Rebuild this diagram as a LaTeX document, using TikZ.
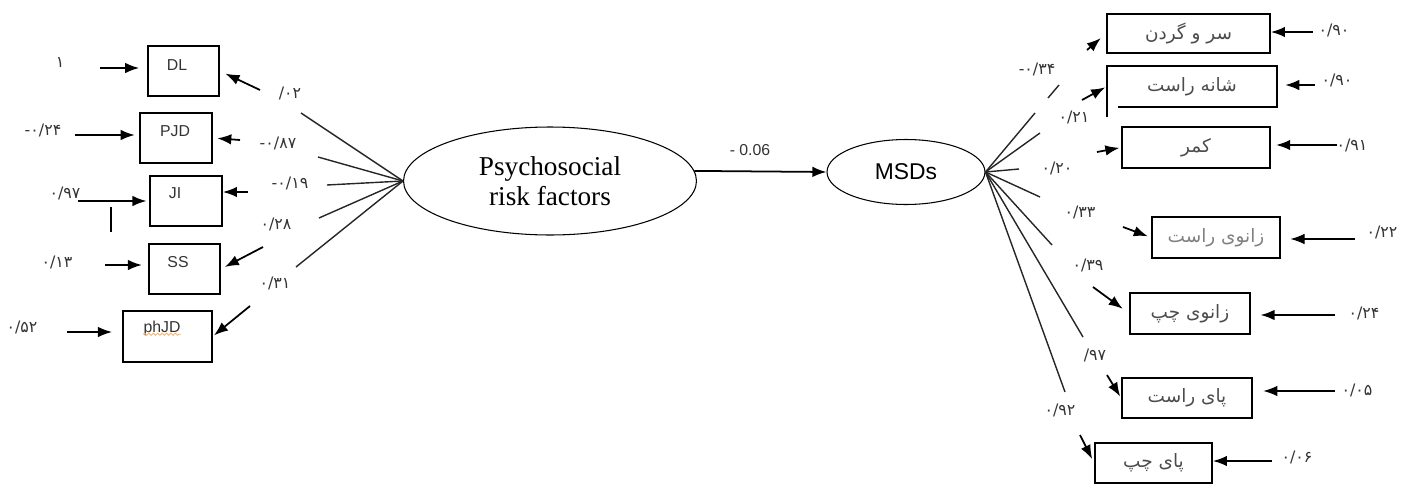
\documentclass[tikz,border=0pt]{standalone}
\usepackage{fontspec}
\setmainfont{Liberation Serif}
\setsansfont{Liberation Sans}
\newfontfamily\farsi[Script=Arabic]{DejaVu Sans}
\newfontfamily\farsinum{DejaVu Sans}
\TeXXeTstate=1
\usepackage{tikz}
\usetikzlibrary{arrows.meta,shapes,calc,decorations.pathmorphing}
\tikzstyle{latent}=[draw,ellipse,line width=0.6pt,inner sep=0pt]
\tikzstyle{item}=[draw,rectangle,line width=1pt,inner sep=0pt]
\tikzstyle{itemtext}=[inner sep=0pt,font=\sffamily\fontsize{9}{9}\selectfont,text=black!80]
\tikzstyle{fatext}=[inner sep=0pt,font=\farsi\fontsize{10.5}{10.5}\selectfont,text=black!70]
\tikzstyle{coef}=[inner sep=0pt,font=\farsinum\fontsize{9}{9}\selectfont,text=black!80]
\tikzstyle{loadline} = [draw,line width=0.8pt,black!85,-]
\tikzstyle{edge} = [draw,line width=1pt,->,>={Latex[length=8pt,width=6pt]}]

\begin{document}
\begin{tikzpicture}[x=0.02cm,y=-0.02cm]
  \useasboundingbox (0,0) rectangle (1404,487);
  % latent variables
  \node[latent,minimum width=5.86cm,minimum height=2.16cm,align=center,
        font=\fontsize{15.5}{17}\selectfont] (psy) at (550,181) {Psychosocial\\risk factors};
  \node[latent,minimum width=3.16cm,minimum height=1.3cm,
        font=\sffamily\fontsize{13}{13}\selectfont] (msd) at (906,172) {MSDs};
  \draw[edge] (psy.4) -- (msd.west);
  \node[inner sep=0pt,font=\sffamily\fontsize{9}{9}\selectfont,text=black!80] (beta) at (750,150) {- 0.06};

  % psychosocial indicators
  \node[item,minimum width=1.42cm,minimum height=1cm] (dl) at (183.5,71) {};
  \node[item,minimum width=1.44cm,minimum height=1cm] (pjd) at (176,138) {};
  \node[item,minimum width=1.44cm,minimum height=1cm] (ji) at (186,201) {};
  \node[item,minimum width=1.42cm,minimum height=1cm] (ss) at (184.5,269) {};
  \node[item,minimum width=1.78cm,minimum height=1.02cm,line width=0.7pt] (phjd) at (167.5,336.5) {};
  \node[itemtext] (dltext) at (177,65) {DL};
  \node[itemtext] (pjdtext) at (175,131) {PJD};
  \node[itemtext] (jitext) at (175,193) {JI};
  \node[itemtext] (sstext) at (178,262) {SS};
  \node[itemtext] (phjdtext) at (162,328) {phJD};
  \draw[orange!60,line width=0.5pt,decorate,decoration={snake,amplitude=0.6pt,segment length=2.5pt}]
    ($(phjdtext.south west)+(0,-1.5)$) -- ($(phjdtext.south east)+(0,-1.5)$);

  % residuals, left
  \node[coef] (e1) at (60,62) {۱};
  \node[coef] (e2) at (43,130) {-۰/۲۴};
  \node[coef] (e3) at (65,193) {۰/۹۷};
  \node[coef] (e4) at (57,262) {۰/۱۳};
  \node[coef] (e5) at (22,327) {۰/۵۲};
  \coordinate (e1s) at (100,68);
  \coordinate (e2s) at (75,135);
  \coordinate (e3s) at (78,201);
  \coordinate (e4s) at (105,265);
  \coordinate (e5s) at (67,332);
  \draw[edge,shorten >=4.5pt] (e1s) -- (e1s -| dl.west);
  \draw[edge,shorten >=2.5pt] (e2s) -- (e2s -| pjd.west);
  \draw[edge,shorten >=1.5pt] (e3s) -- (e3s -| ji.west);
  \draw[edge,shorten >=3.5pt] (e4s) -- (e4s -| ss.west);
  \draw[edge,line width=0.6pt,shorten >=6pt] (e5s) -- (e5s -| phjd.west);
  \coordinate (mark1) at (111,207);
  \coordinate (mark2) at (111,232);
  \draw[line width=1.3pt] (mark1) -- (mark2);

  % loadings, left
  \coordinate (l1) at (301,113);
  \coordinate (l2) at (318,157);
  \coordinate (l3) at (327,185);
  \coordinate (l4) at (319,218);
  \coordinate (l5) at (296,267);
  \draw[loadline] (psy.west) -- (l1);
  \draw[loadline] (psy.west) -- (l2);
  \draw[loadline] (psy.west) -- (l3);
  \draw[loadline] (psy.west) -- (l4);
  \draw[loadline] (psy.west) -- (l5);
  \node[coef] (c1) at (290,93) {/۰۲};
  \node[coef] (c2) at (278,143) {-۰/۸۷};
  \node[coef] (c3) at (290,183) {-۰/۱۹};
  \node[coef] (c4) at (276,224) {۰/۲۸};
  \node[coef] (c5) at (275,283) {۰/۳۱};
  \coordinate (a1) at (260,90);
  \coordinate (a2) at (240,140);
  \coordinate (a3) at (248,192);
  \coordinate (a4) at (263,247);
  \coordinate (a5) at (250,306);
  \draw[edge,shorten >=3.5pt] (a1) -- (dl.east);
  \draw[edge,shorten >=2.5pt] (a2) -- (pjd.east);
  \draw[edge] (a3) -- (a3 -| ji.east);
  \draw[edge,shorten >=2.5pt] (a4) -- (ss.east);
  \draw[edge,shorten >=1pt] (a5) -- (phjd.east);

  % MSD indicators
  \node[item,minimum width=3.26cm,minimum height=0.78cm,fatext] (neck) at (1188.5,33.5) {\beginR سر و گردن\endR};
  \node[minimum width=3.4cm,minimum height=0.82cm,fatext] (shldr) at (1192,86.5) {\beginR شانه راست\endR};
  \draw[line width=1pt] ($(shldr.south west)+(0,10)$) -- (shldr.north west) -- (shldr.north east)
    -- (shldr.south east) -- ($(shldr.south west)+(11,0)$);
  \node[item,minimum width=2.96cm,minimum height=0.82cm,fatext] (back) at (1196,147.5) {\beginR کمر\endR};
  \node[item,minimum width=2.56cm,minimum height=0.82cm,fatext,text=black!50] (rknee) at (1216,237.5) {\beginR زانوی راست\endR};
  \node[item,minimum width=2.4cm,minimum height=0.82cm,fatext] (lknee) at (1190,313.5) {\beginR زانوی چپ\endR};
  \node[item,minimum width=2.6cm,minimum height=0.8cm,fatext] (rfoot) at (1187,398) {\beginR پای راست\endR};
  \node[item,minimum width=2.34cm,minimum height=0.8cm,fatext] (lfoot) at (1153.5,463) {\beginR پای چپ\endR};

  % residuals, right
  \node[coef] (r1) at (1334,30) {۰/۹۰};
  \node[coef] (r2) at (1337,80) {۰/۹۰};
  \node[coef] (r3) at (1352,145) {۰/۹۱};
  \node[coef] (r4) at (1382,232) {۰/۲۲};
  \node[coef] (r5) at (1364,313) {۰/۲۴};
  \node[coef] (r6) at (1357,390) {۰/۰۵};
  \node[coef] (r7) at (1297,457) {۰/۰۶};
  \coordinate (r1s) at (1313,32);
  \coordinate (r2s) at (1315,85);
  \coordinate (r3s) at (1337,145);
  \coordinate (r4s) at (1355,239);
  \coordinate (r5s) at (1335,315);
  \coordinate (r6s) at (1335,391);
  \coordinate (r7s) at (1272,461);
  \draw[edge] (r1s) -- (r1s -| neck.east);
  \draw[edge,shorten >=4.5pt] (r2s) -- (r2s -| shldr.east);
  \draw[edge,shorten >=3pt] (r3s) -- (r3s -| back.east);
  \draw[edge,line width=0.6pt,shorten >=5.5pt] (r4s) -- (r4s -| rknee.east);
  \draw[edge,shorten >=5.5pt] (r5s) -- (r5s -| lknee.east);
  \draw[edge,line width=0.6pt,shorten >=6pt] (r6s) -- (r6s -| rfoot.east);
  \draw[edge] (r7s) -- (r7s -| lfoot.east);

  % loadings, right
  \coordinate (m1) at (1035,113);
  \coordinate (m2) at (1040,133);
  \coordinate (m3) at (1019,169);
  \coordinate (m4) at (1040,197);
  \coordinate (m5) at (1052,245);
  \coordinate (m6) at (1083,337);
  \coordinate (m7) at (1065,392);
  \draw[loadline] (msd.east) -- (m1);
  \draw[loadline] (msd.east) -- (m2);
  \draw[loadline] (msd.east) -- (m3);
  \draw[loadline] (msd.east) -- (m4);
  \draw[loadline] (msd.east) -- (m5);
  \draw[loadline] (msd.east) -- (m6);
  \draw[loadline] (msd.east) -- (m7);
  \coordinate (dash1) at (1048,98);
  \coordinate (dash2) at (1059,85);
  \draw[loadline] (dash1) -- (dash2);
  \node[coef] (k1) at (1037,69) {-۰/۳۴};
  \node[coef] (k2) at (1074,117) {۰/۲۱};
  \node[coef] (k3) at (1057,168) {۰/۲۰};
  \node[coef] (k4) at (1080,212) {۰/۳۳};
  \node[coef] (k5) at (1088,265) {۰/۳۹};
  \node[coef] (k6) at (1095,355) {/۹۷};
  \node[coef] (k7) at (1060,410) {۰/۹۲};
  \coordinate (b1) at (1087,50);
  \coordinate (b2) at (1082,100);
  \coordinate (b3) at (1097,152);
  \coordinate (b4) at (1123,227);
  \coordinate (b5) at (1093,287);
  \coordinate (b6) at (1107,375);
  \coordinate (b7) at (1080,435);
  \draw[edge,shorten >=4pt] (b1) -- (neck.west);
  \draw[edge,shorten >=1pt] (b2) -- (shldr.west);
  \draw[edge,shorten >=1pt] (b3) -- (back.west);
  \draw[edge,shorten >=2pt] (b4) -- (rknee.west);
  \draw[edge,shorten >=4.5pt] (b5) -- (lknee.west);
  \draw[edge,shorten >=1pt] (b6) -- (rfoot.west);
  \draw[edge,shorten >=2.5pt] (b7) -- (lfoot.west);
\end{tikzpicture}
\end{document}
